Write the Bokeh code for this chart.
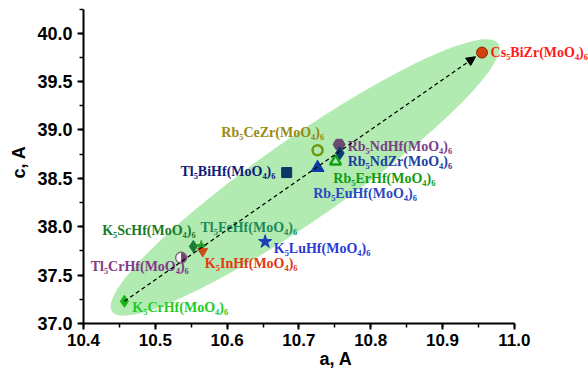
import math
from bokeh.plotting import figure
from bokeh.models import (Range1d, SingleIntervalTicker, Arrow, NormalHead,
                          ColumnDataSource, PrintfTickFormatter)
from bokeh.core.properties import value
from bokeh.embed import file_html
from bokeh.resources import INLINE

# ---- data ----
compounds = ["Cs₅BiZr(MoO₄)₆", "Rb₅CeZr(MoO₄)₆", "Rb₅NdHf(MoO₄)₆", "Rb₅NdZr(MoO₄)₆",
             "Rb₅ErHf(MoO₄)₆", "Rb₅EuHf(MoO₄)₆", "Tl₅BiHf(MoO₄)₆", "K₅LuHf(MoO₄)₆",
             "K₅ScHf(MoO₄)₆", "Tl₅FeHf(MoO₄)₆", "K₅InHf(MoO₄)₆", "Tl₅CrHf(MoO₄)₆",
             "K₅CrHf(MoO₄)₆"]
a_vals = [10.955, 10.726, 10.756, 10.757, 10.751, 10.726, 10.683, 10.653,
          10.553, 10.564, 10.566, 10.536, 10.457]
c_vals = [39.80, 38.79, 38.85, 38.76, 38.675, 38.61, 38.56, 37.845,
          37.797, 37.797, 37.746, 37.68, 37.23]
# label anchor positions (data units)
label_a = [10.967, 10.592, 10.768, 10.768, 10.748, 10.720, 10.535, 10.665,
           10.426, 10.563, 10.569, 10.410, 10.468]
label_c = [39.805, 38.975, 38.832, 38.678, 38.494, 38.340, 38.566, 37.777,
           37.961, 37.992, 37.623, 37.592, 37.162]

# ---- styles ----
markers = ["circle", "circle", "hex", "diamond", "triangle", "triangle", "square",
           "star", "diamond", "star", "inverted_triangle", "circle", "diamond"]
fills = ["#d2400e", "#ffffff", "#6a4a6e", "#0f3a78", "#ffffff", "#0a3ca8", "#0b3666",
         "#1a40b8", "#1a7a3a", "#22a22a", "#c8501a", "#f2f2f2", "#16b416"]
fill_alpha = [1, 0, 1, 1, 0, 1, 1, 1, 1, 1, 1, 1, 1]
lines = ["#8a2a00", "#6e9a12", "#6a4a6e", "#0f3a78", "#16a016", "#0a3ca8", "#0b3666",
         "#1a40b8", "#1a7a3a", "#22a22a", "#c8501a", "#6a5a6a", "#16b416"]
lwidths = [1, 2.5, 1, 1, 2.5, 1, 1, 1, 1, 1, 1, 1.2, 1]
sizes = [11, 10, 12, 13, 11, 13, 10, 14, 12, 12, 10, 11, 12]
text_colors = ["#ff1a1a", "#9a8a10", "#7a3f85", "#1e3f9e", "#109a10", "#2a4ac0",
               "#101c7a", "#2a3ad0", "#1a7a2a", "#1a8a5a", "#e23a10", "#803a88",
               "#22cc22"]

src = ColumnDataSource(dict(a=a_vals, c=c_vals, m=markers, f=fills, fa=fill_alpha,
                            l=lines, lw=lwidths, s=sizes))
lsrc = ColumnDataSource(dict(x=label_a, y=label_c, t=compounds, col=text_colors))

p = figure(width=588, height=371, output_backend="svg", toolbar_location=None,
           x_range=Range1d(10.4, 10.4 + 505 / 718), y_range=Range1d(37.0, 40.338),
           min_border_left=83, min_border_right=0, min_border_top=0,
           min_border_bottom=45)
p.outline_line_color = None
p.xgrid.visible = False
p.ygrid.visible = False
p.background_fill_color = "white"
p.border_fill_color = "white"

# green ellipse (screen-sized)
p.ellipse(x=[10.7085], y=[38.509], width=470, height=82, width_units="screen",
          height_units="screen", angle=math.radians(34.8), fill_color="#b1ebb1",
          line_color=None)

# dashed trend arrow
p.add_layout(Arrow(x_start=a_vals[-1], y_start=c_vals[-1],
                   x_end=10.946, y_end=39.757,
                   line_dash="4 3", line_width=1.3, line_color="black",
                   end=NormalHead(size=9, fill_color="black", line_color="black")))

p.scatter(x="a", y="c", marker="m", size="s", fill_color="f", fill_alpha="fa",
          line_color="l", line_width="lw", source=src)
# half-filled circle for Tl5CrHf
p.wedge(x=[a_vals[11]], y=[c_vals[11]], radius=5, radius_units="screen",
        start_angle=-math.pi / 2, end_angle=math.pi / 2, fill_color="#7a3a7a",
        line_color=None)

p.text(x="x", y="y", text="t", text_color="col", source=lsrc,
       text_font=value("Liberation Serif"), text_font_style="bold",
       text_font_size="14px", text_baseline="middle", text_align="left")

for ax in (p.xaxis[0], p.yaxis[0]):
    ax.axis_line_width = 2
    ax.major_tick_line_width = 2
    ax.minor_tick_line_width = 1.5
    ax.major_tick_out = 6
    ax.major_tick_in = 0
    ax.minor_tick_out = 4
    ax.minor_tick_in = 0
    ax.major_label_text_font = "Liberation Sans"
    ax.major_label_text_font_style = "bold"
    ax.major_label_text_font_size = "17px"
    ax.major_label_text_color = "black"
    ax.axis_label_text_font = "Liberation Sans"
    ax.axis_label_text_font_style = "bold"
    ax.axis_label_text_font_size = "18px"
    ax.axis_label_text_color = "black"
    ax.formatter = PrintfTickFormatter(format="%.1f")

p.yaxis.major_label_text_font_size = "18px"
p.xaxis.ticker = SingleIntervalTicker(interval=0.1, num_minor_ticks=2)
p.yaxis.ticker = SingleIntervalTicker(interval=0.5, num_minor_ticks=2)
p.xaxis.bounds = (10.3999, 11.0001)
p.yaxis.bounds = (36.9999, 40.25)
p.xaxis.axis_label = "a, A"
p.yaxis.axis_label = "c, A"
p.xaxis.major_label_standoff = 4
p.yaxis.major_label_standoff = 5
p.xaxis.axis_label_standoff = 0
p.yaxis.axis_label_standoff = 5

open("out.html", "w").write(file_html(p, INLINE))
